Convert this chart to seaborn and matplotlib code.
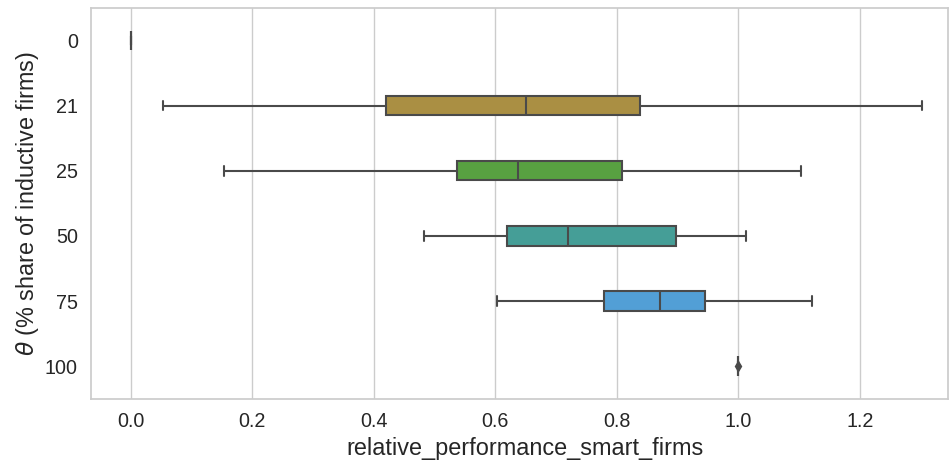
import numpy as np
import pandas as pd
import matplotlib
matplotlib.use("Agg")
import matplotlib.pyplot as plt
import seaborn as sns

# Share of inductive firms (theta, %) and the observed relative performance
# of smart firms for each setting.
theta_levels = ["0", "21", "25", "50", "75", "100"]
perf_0 = [0.0, 0.0, 0.0, 0.0, 0.0]
perf_21 = [0.054, 0.421, 0.651, 0.839, 1.303]
perf_25 = [0.153, 0.538, 0.638, 0.809, 1.104]
perf_50 = [0.483, 0.620, 0.720, 0.898, 1.013]
perf_75 = [0.603, 0.779, 0.872, 0.945, 1.121]
perf_100 = [1.0, 1.0, 1.0, 1.0, 1.0, 1.0002]

series = [perf_0, perf_21, perf_25, perf_50, perf_75, perf_100]
df = pd.DataFrame({
    "theta": np.concatenate([[lvl] * len(v) for lvl, v in zip(theta_levels, series)]),
    "relative_performance_smart_firms": np.concatenate(series),
})

sns.set_theme(style="whitegrid")
plt.rcParams["font.family"] = ["Liberation Sans", "DejaVu Sans"]

fig, ax = plt.subplots(figsize=(9.51, 4.61), dpi=100)
fig.subplots_adjust(left=0.0957, right=0.9968, top=0.983, bottom=0.135)

sns.boxplot(
    data=df, x="relative_performance_smart_firms", y="theta",
    hue="theta", order=theta_levels, hue_order=theta_levels,
    palette="husl", orient="h", width=0.3, legend=False,
    linewidth=1.5, linecolor="#4a4a4a",
    flierprops=dict(marker="d", markersize=5,
                    markerfacecolor="#4a4a4a", markeredgecolor="#4a4a4a"),
    ax=ax,
)

ax.set_xlim(-0.065, 1.345)
ax.set_xticks([0.0, 0.2, 0.4, 0.6, 0.8, 1.0, 1.2])
ax.tick_params(axis="both", labelsize=14.2, colors="#262626")
ax.set_xlabel("relative_performance_smart_firms", fontsize=16.9, color="#262626",
              labelpad=4.5)
ax.xaxis.label.set_x(0.507)
ax.set_ylabel(r"$\theta$ (% share of inductive firms)", fontsize=16.8, color="#262626",
              labelpad=3)
ax.yaxis.grid(False)

fig.savefig("out.png", dpi=100)
